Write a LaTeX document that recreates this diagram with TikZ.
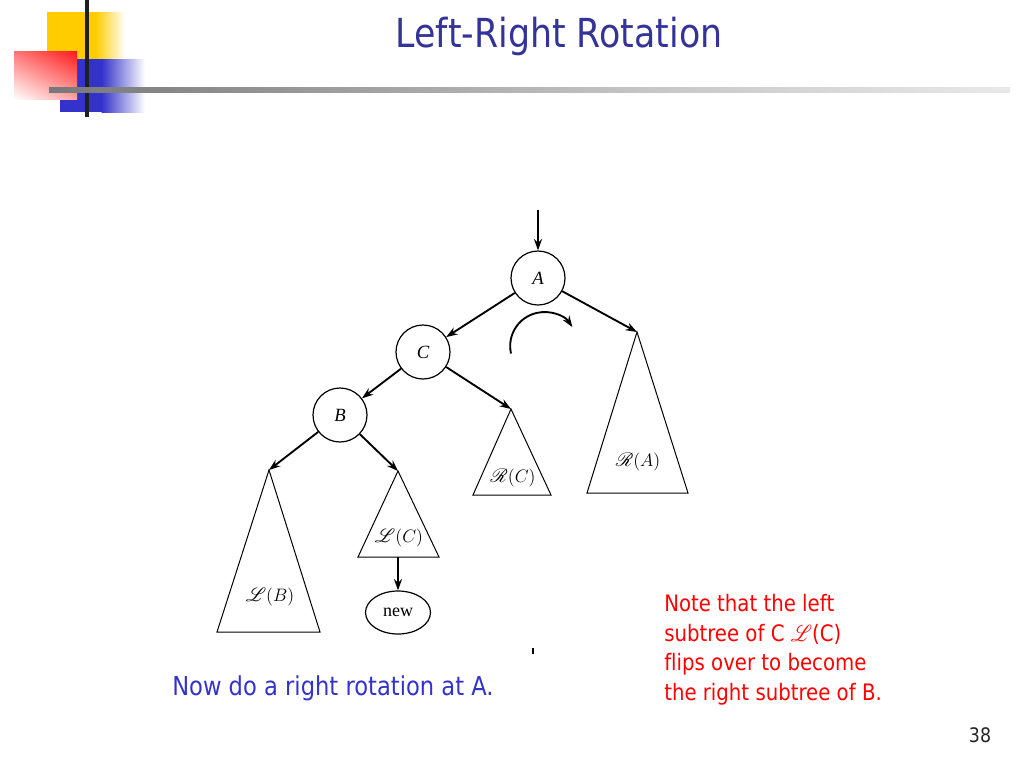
\RequirePackage{fix-cm}
\documentclass[tikz,border=0pt]{standalone}
\usepackage{fontspec}
\setsansfont{DejaVu Sans}[Ligatures=NoCommon]
\newfontfamily\bookfont{Liberation Serif}
\usepackage{mathrsfs}
\usetikzlibrary{arrows.meta,shapes.geometric,shadings}
\definecolor{titleblue}{HTML}{333399}
\definecolor{textblue}{HTML}{3333CC}
\definecolor{notered}{HTML}{FF0000}
\definecolor{logoyellow}{HTML}{FFCC00}
\definecolor{logoblue}{HTML}{3333CC}
\definecolor{logored}{HTML}{FF1A1A}
\definecolor{hlA}{HTML}{2B2B2B}
\definecolor{hlB}{HTML}{7A7A7A}
\definecolor{hlC}{HTML}{C8C8C8}
\definecolor{hlD}{HTML}{EEEEEE}
\definecolor{vline}{HTML}{1F1F1F}
\pgfdeclarehorizontalshading{hlineshade}{100bp}{color(0bp)=(hlA); color(26bp)=(hlB); color(57bp)=(hlC); color(78bp)=(hlD); color(95bp)=(white); color(100bp)=(white)}
\newcommand\squeezetext[1]{\scalebox{0.87}[1]{#1}}
\begin{document}
\begin{tikzpicture}[x=0.75pt,y=-0.75pt,
  circ/.style={circle, draw, line width=0.9pt, minimum size=40.5pt, inner sep=0pt, font=\bookfont\itshape\fontsize{14}{16}\selectfont},
  tri/.style={draw, line width=0.75pt, line join=miter},
  arr/.style={line width=1.4pt, -{Stealth[length=8.5pt, width=6pt]}},
  lbl/.style={inner sep=0pt, font=\fontsize{13.5}{16}\selectfont},
  notetext/.style={anchor=base west, inner sep=0pt, text=notered, font=\sffamily\fontsize{17}{20}\selectfont}
]
\useasboundingbox (0,0) rectangle (1024,768);
\fill[white] (0,0) rectangle (1024,768);

% logo
\fill[logoyellow] (47,12) rectangle (96,59);
\shade[left color=logoyellow, right color=white] (95.5,12) rectangle (125,59);
\fill[logoblue] (60,59) rectangle (102,112);
\shade[left color=logoblue, right color=white] (101.5,59) rectangle (145,112);
\shade[upper left=logored!60!white, upper right=logored, lower left=white, lower right=logored!40!white] (14,51) rectangle (77,99);
\draw[line width=3pt, vline] (87,0) -- (87,117);
\shade[shading=hlineshade] (49,87.7) rectangle (1010,92.5);

% title
\node[anchor=base, inner sep=0pt, text=titleblue, font=\sffamily\fontsize{30}{36}\selectfont] (title) at (559,47) {\squeezetext{Lef\kern0pt t-Right Rotation}};

% tree
\node[circ] (A) at (538,278) {A};
\node[circ] (C) at (423,352) {C};
\node[circ] (B) at (340,415) {B};
\coordinate (in) at (538,210);

\coordinate (RAtop) at (637,332);
\draw[tri] (RAtop) -- (587,493) -- (688,493) -- cycle;
\node[lbl] (RA) at (638,462) {$\mathscr{R}(A)$};

\coordinate (RCtop) at (511,409);
\draw[tri] (RCtop) -- (473,495) -- (551,495) -- cycle;
\node[lbl] (RC) at (513,478) {$\mathscr{R}(C)$};

\coordinate (LBtop) at (269,470);
\draw[tri] (LBtop) -- (217,632) -- (320,632) -- cycle;
\node[lbl] (LB) at (270,597) {$\mathscr{L}(B)$};

\coordinate (LCtop) at (398,471);
\draw[tri] (LCtop) -- (358,557) -- (439,557) -- cycle;
\node[lbl] (LC) at (399,538) {$\mathscr{L}(C)$};
\coordinate (LCbase) at (398,557);

\node[ellipse, draw, line width=0.9pt, minimum width=48.75pt, minimum height=32.25pt, inner sep=0pt, font=\bookfont\fontsize{13.5}{15}\selectfont] (new) at (398,612.5) {new};

\draw[arr] (in) -- (A);
\draw[arr] (A) -- (C);
\draw[arr] (A) -- (RAtop);
\draw[arr] (C) -- (B);
\draw[arr] (C) -- (RCtop);
\draw[arr] (B) -- (LBtop);
\draw[arr] (B) -- (LCtop);
\draw[arr] (LCbase) -- (new);

\coordinate (rotstart) at (511,353.5);
\draw[arr] (rotstart) arc[start angle=192.6, end angle=34, radius=25.5pt];

\fill (532,648) rectangle (534,654);

% texts
\node[anchor=base west, inner sep=0pt, text=textblue, font=\sffamily\fontsize{19.5}{23}\selectfont] (bottomtext) at (172,695) {\squeezetext{Now do a right rotation at A.}};

\node[notetext] (note1) at (664,611) {\squeezetext{Note that the lef\kern0pt t}};
\node[notetext] (note2) at (664,641) {\squeezetext{subtree of C $\mathscr{L}$(C)}};
\node[notetext] (note3) at (664,670.5) {\squeezetext{f\kern0pt lips over to become}};
\node[notetext] (note4) at (664,700) {\squeezetext{the right subtree of B.}};

\node[anchor=base, inner sep=0pt, text=black!85, font=\sffamily\fontsize{15}{18}\selectfont] (page) at (980,742) {\squeezetext{38}};
\end{tikzpicture}
\end{document}
